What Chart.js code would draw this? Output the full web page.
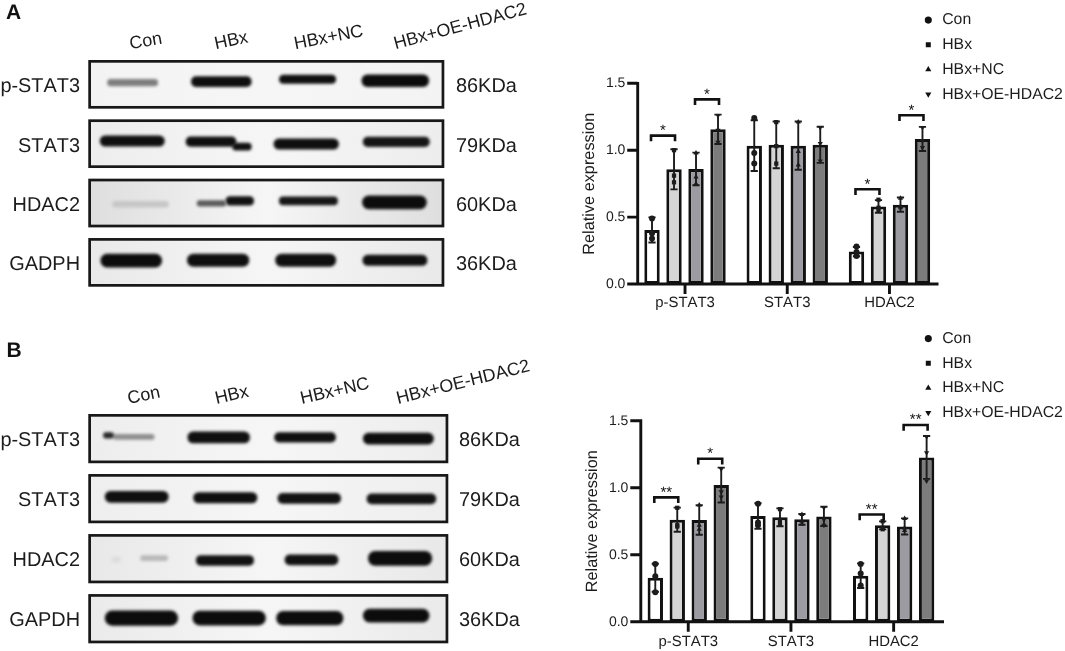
<!DOCTYPE html>
<html><head><meta charset="utf-8">
<script src="https://cdn.jsdelivr.net/npm/chart.js@4"></script>
<style>
html,body{margin:0;padding:0;background:#fff;width:1065px;height:651px;overflow:hidden}
canvas{position:absolute;display:block}
</style></head><body>
<canvas id="blotA" width="530" height="312" style="left:0;top:0"></canvas>
<canvas id="barsA" width="495" height="320" style="left:570px;top:0"></canvas>
<canvas id="blotB" width="530" height="338" style="left:0;top:330px"></canvas>
<canvas id="barsB" width="495" height="326" style="left:570px;top:325px"></canvas>
<script>
// ---------- densitometry data ----------
const targets = ['p-STAT3','STAT3','HDAC2'];
const groupNames = ['Con','HBx','HBx+NC','HBx+OE-HDAC2'];

const meanA_Con = [0.404,1.034,0.242];
const meanA_HBx = [0.857,1.040,0.580];
const meanA_NC  = [0.860,1.034,0.593];
const meanA_OE  = [1.156,1.040,1.084];
const sdA_Con = [0.094,0.190,0.035];
const sdA_HBx = [0.150,0.175,0.047];
const sdA_NC  = [0.122,0.180,0.053];
const sdA_OE  = [0.110,0.135,0.090];
const dotsA_Con = [[0.49,0.38,0.34],[1.24,0.98,0.90],[0.28,0.24,0.21]];
const dotsA_HBx = [[1.00,0.81,0.76],[1.21,1.03,0.90],[0.63,0.57,0.55]];
const dotsA_NC  = [[0.98,0.80,0.75],[1.21,0.99,0.89],[0.64,0.58,0.57]];
const dotsA_OE  = [[1.26,1.15,1.06],[1.17,1.05,0.92],[1.17,1.07,1.02]];
const sigA = [[0,0,1,1.109,'*'],[0,2,3,1.38,'*'],[2,0,1,0.708,'*'],[2,2,3,1.261,'*']];

const meanB_Con = [0.328,0.789,0.343];
const meanB_HBx = [0.761,0.779,0.719];
const meanB_NC  = [0.759,0.764,0.711];
const meanB_OE  = [1.020,0.786,1.226];
const sdB_Con = [0.105,0.095,0.092];
const sdB_HBx = [0.090,0.067,0.030];
const sdB_NC  = [0.110,0.040,0.060];
const sdB_OE  = [0.130,0.072,0.160];
const dotsB_Con = [[0.43,0.34,0.22],[0.88,0.74,0.72],[0.43,0.36,0.27]];
const dotsB_HBx = [[0.85,0.72,0.71],[0.84,0.76,0.73],[0.75,0.70,0.69]];
const dotsB_NC  = [[0.87,0.72,0.69],[0.80,0.75,0.73],[0.77,0.70,0.68]];
const dotsB_OE  = [[1.14,0.97,0.93],[0.85,0.76,0.72],[1.38,1.26,1.05]];
const sigB = [[0,0,1,0.928,'**'],[0,2,3,1.216,'*'],[2,0,1,0.80,'**'],[2,2,3,1.468,'**']];

// ---------- blot labels and bands ----------
const proteinsA = ['p-STAT3','STAT3','HDAC2','GADPH'];
const proteinsB = ['p-STAT3','STAT3','HDAC2','GAPDH'];
const sizes = ['86KDa','79KDa','60KDa','36KDa'];
const laneStartA = [388,640,875,1172];
const laneStartB = [380,640,893,1178];
const laneTiltA = [10,12,11,15];
const laneTiltB = [12,13,13,14];

const bandRowA = [-.03,-.045,-.085,-.06, .955,.966,1.05,1.005,.97, 2.02,2.005,1.965,1.965,1.99, 2.97,2.965,2.965,2.965];
const bandFromA = [320,568,828,1072, 298,552,690,812,1076, 335,585,670,828,1074, 300,556,817,1075];
const bandToA   = [468,745,995,1270, 488,700,745,1003,1272, 500,670,752,1000,1263, 480,738,995,1265];
const bandRowB = [-.055,-.03,-.02,-.02,0, .97,.985,.995,1.005, 2.015,1.99,2.03,2.02,1.995, 2.99,2.99,2.99,2.95];
const bandFromB = [305,335,555,812,1075, 310,572,822,1086, 330,415,580,843,1090, 310,570,818,1075];
const bandToB   = [335,455,738,993,1283, 497,760,1008,1290, 355,495,750,1000,1278, 525,785,1015,1270];

// ---------- styles ----------
const FONT = '"Liberation Sans", Arial, sans-serif';
const INK = '#1c1c1c';
const barFills = ['#ffffff','#d5d5d5','#9b9ba1','#7c7c7c'];
const markers = [['circle',0],['rect',0],['triangle',0],['triangle',180]];
const thickA = [6.5,10,8.5,12, 10.5,9.5,7,10.5,9.5, 6,5.5,8.5,8,13, 13,12.5,12.5,10.5];
const thickB = [5.5,5,11,9.5,11, 11,10.5,10,10, 5,5,10,10,14, 14.5,14,13.5,13];
const shadeA = ['#7d7d7d','#0f0f0f','#0f0f0f','#0b0b0b', '#0f0f0f','#0f0f0f','#111','#0f0f0f','#151515', '#c6c6c6','#5a5a5a','#111','#161616','#0c0c0c', '#0c0c0c','#0f0f0f','#0f0f0f','#101010'];
const shadeB = ['#262626','#8e8e8e','#0f0f0f','#0f0f0f','#0d0d0d', '#0f0f0f','#0f0f0f','#111','#121212', '#dcdcdc','#b8b8b8','#111','#111','#0c0c0c', '#0c0c0c','#0c0c0c','#0c0c0c','#0c0c0c'];
const rowTintA = ['#f3f3f3','#ededed','#dedede','#e9e9e9'];
const rowTintB = ['#ededed','#eeeeee','#e8e8e8','#eaeaea'];

function plainText(chart){
  chart.ctx.fontKerning = 'none';
  chart.ctx.textRendering = 'geometricPrecision';
}

// ---------- plugins ----------
const barMarks = {
  id:'barMarks',
  beforeDraw: plainText,
  afterLayout(chart){
    const o = chart.options.plugins.barMarks, l = chart.legend;
    const w = l.width, h = l.height;
    l.left = o.legendX; l.top = o.legendY; l.right = l.left + w; l.bottom = l.top + h;
  },
  afterDatasetsDraw(chart){
    const o = chart.options.plugins.barMarks, c = chart.ctx;
    const xS = chart.scales.x, yS = chart.scales.y, area = chart.chartArea;
    const axisX = area.left + o.axisGap, zero = yS.getPixelForValue(0);
    c.save();
    // error bars and replicate points
    o.sd.forEach((series, d) => {
      const bars = chart.getDatasetMeta(d).data;
      series.forEach((sd, g) => {
        const x = bars[g].x, m = chart.data.datasets[d].data[g];
        const hi = yS.getPixelForValue(m + sd), lo = yS.getPixelForValue(m - sd);
        c.strokeStyle = INK; c.lineWidth = 1.9; c.beginPath();
        c.moveTo(x, hi); c.lineTo(x, lo);
        c.moveTo(x - 3.6, hi); c.lineTo(x + 3.6, hi);
        c.moveTo(x - 3.6, lo); c.lineTo(x + 3.6, lo);
        c.stroke();
        o.dots[d][g].forEach(v => {
          c.fillStyle = INK; c.strokeStyle = INK;
          Chart.helpers.drawPoint(c, {pointStyle:markers[d][0], rotation:markers[d][1], radius:3, borderWidth:0}, x, yS.getPixelForValue(v));
        });
      });
    });
    // significance brackets
    o.sig.forEach(([g, a, b, v, mark]) => {
      const x1 = chart.getDatasetMeta(a).data[g].x - 1, x2 = chart.getDatasetMeta(b).data[g].x + 1;
      const y = yS.getPixelForValue(v);
      c.strokeStyle = '#111'; c.lineWidth = 2.6; c.lineJoin = 'miter'; c.beginPath();
      c.moveTo(x1, y + 5.7); c.lineTo(x1, y); c.lineTo(x2, y); c.lineTo(x2, y + 5.7); c.stroke();
      c.fillStyle = '#111'; c.font = '15px ' + FONT; c.textAlign = 'center'; c.textBaseline = 'alphabetic';
      c.fillText(mark, (x1 + x2) / 2, y - 0.7);
    });
    // axes
    c.strokeStyle = '#111'; c.lineWidth = 2.9; c.lineCap = 'butt'; c.beginPath();
    c.moveTo(axisX, yS.getPixelForValue(1.5) - 1.4); c.lineTo(axisX, zero);
    c.moveTo(axisX - 10.5, zero); c.lineTo(o.axisEnd, zero);
    xS.ticks.forEach((t, i) => { const x = xS.getPixelForTick(i); c.moveTo(x, zero); c.lineTo(x, zero + 10); });
    yS.ticks.forEach(t => { const y = yS.getPixelForValue(t.value); c.moveTo(axisX - 10.5, y); c.lineTo(axisX, y); });
    c.stroke();
    c.restore();
  }
};

const blotFrames = {
  id:'blotFrames',
  beforeDraw: plainText,
  beforeDatasetsDraw(chart){
    const o = chart.options.plugins.blotFrames, c = chart.ctx, a = chart.chartArea, y = chart.scales.y;
    c.save();
    o.tints.forEach((tint, i) => {
      const t = y.getPixelForValue(i - .41), b = y.getPixelForValue(i + .41);
      const g = c.createLinearGradient(a.left, 0, a.right, 0);
      g.addColorStop(0, tint); g.addColorStop(.5, '#f6f6f6'); g.addColorStop(1, tint);
      c.fillStyle = g; c.fillRect(a.left, t, a.right - a.left, b - t);
    });
    c.restore();
    c.save();
    c.filter = 'blur(1.5px)';
  },
  afterDatasetsDraw(chart){
    const o = chart.options.plugins.blotFrames, c = chart.ctx, a = chart.chartArea, y = chart.scales.y, x = chart.scales.x;
    c.restore();
    c.save();
    c.strokeStyle = '#181818'; c.lineWidth = 2.7;
    o.tints.forEach((tint, i) => {
      const t = y.getPixelForValue(i - .41), b = y.getPixelForValue(i + .41);
      c.strokeRect(a.left + 1.35, t + 1.35, a.right - a.left - 2.7, b - t - 2.7);
    });
    c.fillStyle = INK; c.font = '17.9px ' + FONT; c.textAlign = 'left'; c.textBaseline = 'alphabetic';
    groupNames.forEach((name, i) => {
      c.save();
      c.translate(x.getPixelForValue(o.laneStart[i]), a.top - o.laneGap);
      c.rotate(-o.laneTilt[i] * Math.PI / 180);
      c.fillText(name, 0, 0);
      c.restore();
    });
    c.fillStyle = '#111'; c.font = 'bold 21px ' + FONT;
    c.fillText(o.letter, o.letterX, o.letterY);
    c.restore();
  }
};

// ---------- builders ----------
function buildBars(id, means, sds, dots, sig, geo){
  new Chart(document.getElementById(id), {
    type:'bar',
    data:{ labels:targets, datasets:groupNames.map((name, i) => ({
      label:name, data:means[i], backgroundColor:barFills[i], borderColor:'#111',
      borderWidth:3, borderSkipped:false, categoryPercentage:geo.catPct, barPercentage:.7
    }))},
    options:{
      responsive:false, animation:false, events:[],
      layout:{autoPadding:false, padding:{top:geo.top, bottom:0, right:geo.right, left:0}},
      scales:{
        x:{ grid:{display:false, drawTicks:false}, border:{display:false},
            afterFit(s){ s.height = geo.bottom; },
            ticks:{autoSkip:false, maxRotation:0, minRotation:0, padding:geo.xPad, color:INK, font:{family:FONT, size:14.9}} },
        y:{ min:0, max:1.5, grid:{display:false, drawTicks:false}, border:{display:false},
            afterFit(s){ s.width = geo.left; },
            ticks:{stepSize:.5, padding:geo.yPad, color:INK, font:{family:FONT, size:14}, callback:v => v.toFixed(1)},
            title:{display:true, text:'Relative expression', color:INK, font:{family:FONT, size:16.3}, padding:{top:geo.titlePad, bottom:0}} }
      },
      plugins:{
        tooltip:{enabled:false},
        legend:{ position:'chartArea', align:'start', labels:{
          boxWidth:12, boxHeight:5, usePointStyle:true, padding:geo.legendPad, color:INK, font:{family:FONT, size:15.8},
          generateLabels:chart => chart.data.datasets.map((d, i) => ({
            text:d.label, fillStyle:'#111', strokeStyle:'#111', lineWidth:0, pointStyle:markers[i][0], rotation:markers[i][1], datasetIndex:i, fontColor:INK
          }))
        }},
        barMarks:{sd:sds, dots, sig, axisGap:geo.axisGap, axisEnd:geo.axisEnd, legendX:geo.legendX, legendY:geo.legendY}
      }
    },
    plugins:[barMarks]
  });
}

function buildBlot(id, proteins, rows, from, to, thick, shade, geo){
  new Chart(document.getElementById(id), {
    type:'bar',
    data:{ datasets:rows.map((r, i) => ({
      data:[{x:[from[i], to[i]], y:r}], backgroundColor:shade[i], borderWidth:0, borderSkipped:false,
      barThickness:thick[i], borderRadius:thick[i] / 2, grouped:false, yAxisID:'y', xAxisID:'x'
    }))},
    options:{
      indexAxis:'y', responsive:false, animation:false, events:[],
      layout:{autoPadding:false, padding:{top:geo.top, bottom:geo.bottom, left:0, right:0}},
      scales:{
        x:{type:'linear', min:geo.xMin, max:geo.xMax, display:false},
        y:{type:'linear', bounds:'data', offset:false, reverse:true, min:-.41, max:3.41, position:'left',
           grid:{display:false, drawTicks:false, offset:false}, border:{display:false},
           afterFit(s){ s.width = geo.left; },
           afterBuildTicks(s){ s.ticks = proteins.map((p, i) => ({value:i + geo.labelDrop})); },
           ticks:{autoSkip:false, padding:8.3, color:INK, font:{family:FONT, size:19.9}, callback:v => proteins[Math.round(v)]}},
        y2:{type:'linear', bounds:'data', offset:false, reverse:true, min:-.41, max:3.41, position:'right', display:true,
           grid:{display:false, drawTicks:false}, border:{display:false},
           afterFit(s){ s.width = geo.rightW; },
           afterBuildTicks(s){ s.ticks = sizes.map((p, i) => ({value:i + geo.labelDrop})); },
           ticks:{autoSkip:false, padding:geo.rightPad, color:INK, font:{family:FONT, size:19.9}, callback:v => sizes[Math.round(v)]}}
      },
      plugins:{ legend:{display:false}, tooltip:{enabled:false},
        blotFrames:{tints:geo.tints, laneStart:geo.laneStart, laneTilt:geo.laneTilt, laneGap:geo.laneGap, letter:geo.letter, letterX:geo.letterX, letterY:geo.letterY}
      }
    },
    plugins:[blotFrames]
  });
}

// ---------- panels ----------
buildBlot('blotA', proteinsA, bandRowA, bandFromA, bandToA, thickA, shadeA, {
  top:60, bottom:25.3, left:88.3, rightW:85.7, rightPad:11.7, xMin:263, xMax:1316, tints:rowTintA, labelDrop:.04,
  laneStart:laneStartA, laneTilt:laneTiltA, laneGap:10.7, letter:'A', letterX:6, letterY:19
});
buildBlot('blotB', proteinsB, bandRowB, bandFromB, bandToB, thickB, shadeB, {
  top:84, bottom:24.7, left:88.3, rightW:81.7, rightPad:10.7, xMin:260, xMax:1327, tints:rowTintB, labelDrop:.033,
  laneStart:laneStartB, laneTilt:laneTiltB, laneGap:10, letter:'B', letterX:6.5, letterY:26.7
});
buildBars('barsA', [meanA_Con,meanA_HBx,meanA_NC,meanA_OE], [sdA_Con,sdA_HBx,sdA_NC,sdA_OE],
  [dotsA_Con,dotsA_HBx,dotsA_NC,dotsA_OE], sigA, {
  top:83.3, bottom:36, left:63.9, right:124.4, catPct:.8607, axisGap:3.8, axisEnd:368.5,
  xPad:10, yPad:8.5, titlePad:10, legendPad:8.9, legendX:343.4, legendY:3.3
});
buildBars('barsB', [meanB_Con,meanB_HBx,meanB_NC,meanB_OE], [sdB_Con,sdB_HBx,sdB_NC,sdB_OE],
  [dotsB_Con,dotsB_HBx,dotsB_NC,dotsB_OE], sigB, {
  top:95.7, bottom:29.3, left:66.9, right:120, catPct:.856, axisGap:3.9, axisEnd:374,
  xPad:11, yPad:8.5, titlePad:13, legendPad:8.9, legendX:343.4, legendY:-3.2
});
</script>
</body></html>
